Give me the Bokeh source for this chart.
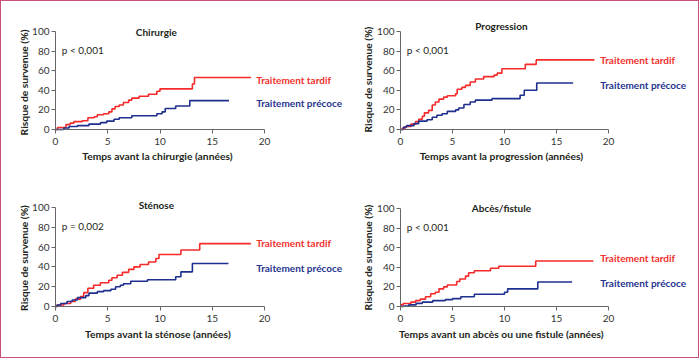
import math
from bokeh.plotting import figure
from bokeh.models import Range1d, Label
from bokeh.layouts import column, row
from bokeh.embed import file_html
from bokeh.resources import INLINE

# ---------------- data ----------------
titles = ["Chirurgie", "Progression", "Sténose", "Abcès/fistule"]
xlabels = ["Temps avant la chirurgie (années)",
           "Temps avant la progression (années)",
           "Temps avant la sténose (années)",
           "Temps avant un abcès ou une fistule (années)"]
ylabel = "Risque de survenue (%)"
pvalues = ["p < 0,001", "p < 0,001", "p = 0,002", "p < 0,001"]
series_names = ["Traitement tardif", "Traitement précoce"]
x_ticks = [0, 5, 10, 15, 20]
y_ticks = [0, 20, 40, 60, 80, 100]

chir_tardif_t = [0, 0.2, 1.0, 1.4, 1.75, 2.55, 3.1, 3.7, 4.0, 4.6, 5.1, 5.4, 5.7, 6.1, 6.5, 7.0, 7.3, 8.0, 8.9, 9.7, 10.0, 13.1, 13.3, 18.7]
chir_tardif_v = [0, 2, 5, 6.5, 8, 9, 12, 13, 15, 16, 18, 21, 23.5, 25, 27.5, 30, 32, 34, 36, 39, 41.5, 46.5, 53, 53]
chir_precoce_t = [0, 0.3, 0.8, 1.3, 2.1, 3.2, 4.3, 4.9, 5.6, 6.1, 7.3, 9.7, 10.2, 10.5, 11.5, 12.85, 16.6]
chir_precoce_v = [0, 0, 1.5, 3, 4, 5.5, 7, 8.5, 10.5, 12, 14, 16, 18, 21.5, 24, 29.5, 29.5]

prog_tardif_t = [0, 0.2, 0.5, 1.0, 1.45, 1.75, 2.1, 2.3, 2.7, 3.05, 3.35, 3.7, 4.15, 4.5, 5.3, 5.45, 5.9, 6.25, 6.7, 7.2, 8.0, 9.0, 9.3, 9.75, 12.0, 13.05, 18.65]
prog_tardif_v = [0, 1.5, 3, 5.5, 8, 10.5, 13.5, 17, 19.5, 25, 28, 31, 33, 34.5, 36.5, 41, 43, 45, 48.5, 51.5, 54, 55.5, 57.5, 62, 66.5, 71, 71]
prog_precoce_t = [0, 0.3, 0.6, 1.3, 1.75, 2.55, 3.05, 3.5, 4.0, 4.5, 5.3, 5.6, 6.1, 6.7, 7.2, 8.8, 11.5, 11.9, 13.1, 16.6]
prog_precoce_v = [0, 2.5, 4, 6, 8.5, 10, 12.5, 14.5, 16, 18.5, 20, 22, 25.5, 28, 30, 31.5, 35, 40, 47.5, 47.5]

sten_tardif_t = [0, 0.15, 0.8, 1.45, 1.9, 2.4, 2.7, 3.1, 3.65, 4.3, 5.1, 5.4, 5.9, 6.4, 7.0, 7.5, 8.1, 8.9, 9.6, 9.9, 12.0, 13.8, 18.7]
sten_tardif_v = [0, 1.5, 3, 5, 7.5, 10, 14, 18.5, 21.5, 24, 26.5, 29, 31.5, 34.5, 37.5, 40, 42.5, 45, 48.5, 52.5, 57, 63.5, 63.5]
sten_precoce_t = [0, 0.15, 0.5, 1.1, 1.6, 2.1, 2.9, 3.2, 4.0, 4.6, 5.3, 5.75, 6.2, 6.5, 7.2, 8.8, 11.5, 12.0, 13.1, 16.55]
sten_precoce_v = [0, 1.5, 3, 5, 6.5, 9, 11, 13.5, 15, 16, 17.5, 20, 21.5, 23, 25.5, 27, 30, 35, 43.5, 43.5]

abces_tardif_t = [0, 0.05, 0.25, 1.0, 1.45, 1.9, 2.4, 2.9, 3.35, 3.7, 4.15, 4.5, 5.4, 5.7, 6.25, 6.55, 7.1, 8.65, 9.45, 13.0, 18.55]
abces_tardif_v = [0, 1.7, 3, 4.5, 6, 7.5, 10, 13, 14.5, 18, 20, 22, 25.5, 28, 31, 34.5, 36.5, 39, 41, 46.5, 46.5]
abces_precoce_t = [0, 0.3, 0.8, 1.5, 2.1, 3.1, 4.3, 5.0, 5.8, 7.1, 10.0, 10.3, 13.2, 16.5]
abces_precoce_v = [0, 0.5, 1.7, 3.2, 4.5, 6, 7, 8, 10, 12.5, 14.5, 18, 25, 25]

# label positions (data units)
title_pos = [(9.65, 99), (9.7, 106), (9.65, 103), (9.7, 101)]
legend_y = [(51, 27.5), (71.4, 45), (64.6, 38.4), (50, 23.5)]
xlabel_pos = [(9.75, -27.5), (9.7, -27.5), (9.8, -27.6), (9.7, -27.9)]
ylabel_pos = [(-3.0, 48), (-3.1, 51), (-3.0, 49), (-3.1, 50)]

curves = [
    ((chir_tardif_t, chir_tardif_v), (chir_precoce_t, chir_precoce_v)),
    ((prog_tardif_t, prog_tardif_v), (prog_precoce_t, prog_precoce_v)),
    ((sten_tardif_t, sten_tardif_v), (sten_precoce_t, sten_precoce_v)),
    ((abces_tardif_t, abces_tardif_v), (abces_precoce_t, abces_precoce_v)),
]

RED = "#f52a2a"
BLUE = "#1f2f8e"
RED_TXT = "#f0302c"
BLUE_TXT = "#27348f"
TXT = "#231f20"
FONT = "Lato"

# geometry in pixels: (fig_w, fig_h, axis_left_px, px_for_20_years, top_to_100_px, px_for_100_percent)
geo = [
    (349, 179, 54, 209, 30, 98),
    (348, 179, 50, 208, 30, 98),
    (349, 177, 54, 209, 27, 99),
    (348, 177, 50, 208, 28, 98),
]

figs = []
for i in range(4):
    fw, fh, axl, px20, top100, px100 = geo[i]
    kx = px20 / 20.0
    ky = px100 / 100.0
    x_start = -axl / kx
    x_end = (fw - axl) / kx
    y_end = 100.0 + top100 / ky
    y_start = -(fh - top100 - px100) / ky
    p = figure(frame_width=fw, frame_height=fh, min_border_left=0, min_border_right=0,
               min_border_top=0, min_border_bottom=0,
               x_range=Range1d(x_start, x_end), y_range=Range1d(y_start, y_end),
               output_backend="svg", toolbar_location=None)
    p.outline_line_color = None
    p.xgrid.visible = False
    p.ygrid.visible = False
    p.background_fill_color = "white"
    p.border_fill_color = "white"
    p.xaxis.ticker = x_ticks
    p.yaxis.ticker = y_ticks
    p.xaxis.bounds = (0, 20)
    p.yaxis.bounds = (0, 100)
    p.xaxis.fixed_location = 0
    p.yaxis.fixed_location = 0
    for ax in (p.xaxis, p.yaxis):
        ax.axis_line_color = "#666666"
        ax.major_tick_line_color = "#666666"
        ax.major_tick_in = 0
        ax.major_tick_out = 4
        ax.minor_tick_in = 0
        ax.minor_tick_out = 0
        ax.major_label_text_font = FONT
        ax.major_label_text_font_size = "10px"
        ax.major_label_text_color = "#333333"
    p.xaxis.major_label_standoff = 4
    p.yaxis.major_label_standoff = 2

    (tt, tv), (pt, pv) = curves[i]
    p.step(tt, tv, mode="after", line_color=RED, line_width=1.6)
    p.step(pt, pv, mode="after", line_color=BLUE, line_width=1.6)

    p.add_layout(Label(x=title_pos[i][0], y=title_pos[i][1], text=titles[i], text_font=FONT,
                       text_font_size="10px", text_font_style="bold", text_color=TXT,
                       text_align="center", text_baseline="middle"))
    p.add_layout(Label(x=xlabel_pos[i][0], y=xlabel_pos[i][1], text=xlabels[i], text_font=FONT,
                       text_font_size="10.3px", text_font_style="bold", text_color=TXT,
                       text_align="center", text_baseline="middle"))
    p.add_layout(Label(x=ylabel_pos[i][0], y=ylabel_pos[i][1], text=ylabel, text_font=FONT,
                       text_font_size="10.3px", text_font_style="bold", text_color=TXT,
                       angle=math.pi / 2, text_align="center", text_baseline="middle"))
    p.add_layout(Label(x=0.6, y=81, text=pvalues[i], text_font=FONT,
                       text_font_size="10px", text_color=TXT,
                       text_align="left", text_baseline="middle"))
    p.add_layout(Label(x=19.2, y=legend_y[i][0], text=series_names[0], text_font=FONT,
                       text_font_size="10px", text_font_style="bold", text_color=RED_TXT,
                       text_align="left", text_baseline="middle"))
    p.add_layout(Label(x=19.2, y=legend_y[i][1], text=series_names[1], text_font=FONT,
                       text_font_size="10px", text_font_style="bold", text_color=BLUE_TXT,
                       text_align="left", text_baseline="middle"))
    figs.append(p)

layout = column(row(figs[0], figs[1]), row(figs[2], figs[3]),
                styles={"border": "1px solid #c8507a"})

open("out.html", "w").write(file_html(layout, INLINE))
